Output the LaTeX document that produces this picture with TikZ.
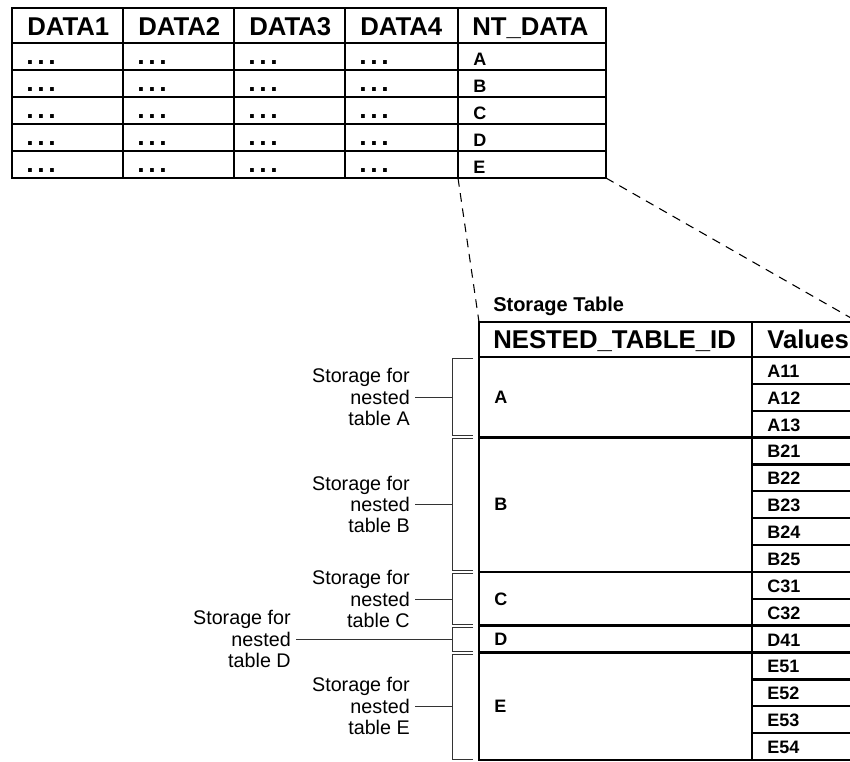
\documentclass[tikz,border=0pt]{standalone}
\usepackage{fontspec}
\setmainfont{Liberation Sans}
\usetikzlibrary{calc}

\tikzset{
  tblframe/.style={line width=2pt},
  tblline/.style={line width=1.6pt},
  colline/.style={line width=1pt},
  hdr/.style={font=\fontsize{19.3}{21}\selectfont\bfseries, inner sep=0pt, anchor=base west},
  ttl/.style={font=\fontsize{15}{17}\selectfont\bfseries, inner sep=0pt, anchor=base west},
  cell/.style={font=\fontsize{13.5}{15}\selectfont\bfseries, inner sep=0pt, anchor=base west},
  dotcell/.style={font=\fontsize{20}{22}\selectfont\bfseries, inner sep=0pt, anchor=base west},
  val/.style={font=\fontsize{13.5}{15}\selectfont\bfseries, inner sep=0pt, anchor=base west},
  idtxt/.style={font=\fontsize{13.5}{15}\selectfont\bfseries, inner sep=0pt, anchor=west},
  brace/.style={line width=0.7pt, draw=black!80},
  note/.style={font=\fontsize{14.8}{15.8}\selectfont, align=right, inner ysep=0pt, inner xsep=3.75pt, anchor=east},
  zoomline/.style={line width=0.8pt, dash pattern=on 6.5pt off 5pt},
}
\newcommand{\tdots}{.\hspace{2.7pt}.\hspace{2.7pt}.}

\begin{document}
\begin{tikzpicture}[x=0.75pt, y=-0.75pt]
  \useasboundingbox (0,0) rectangle (850,761);

  % outer table
  \draw[tblframe] (12,8) rectangle (606,178);
  \foreach \y in {43,70,97,124,151} \draw[tblline] (12,\y) -- (606,\y);
  \foreach \x in {123,234,345,458} \draw[colline] (\x,8) -- (\x,178);
  \node[hdr] (h1) at (27,35) {DATA1};
  \node[hdr] (h2) at (138,35) {DATA2};
  \node[hdr] (h3) at (249,35) {DATA3};
  \node[hdr] (h4) at (360,35) {DATA4};
  \node[hdr] (h5) at (472,35) {NT\_DATA};
  \foreach \r/\l in {0/A,1/B,2/C,3/D,4/E} {
    \foreach \c/\x in {1/26,2/137,3/248,4/359}
      \node[dotcell] (d\c\l) at (\x,64+27*\r) {\tdots};
    \node[cell] (nt\l) at (473,65.5+27*\r) {\l};
  }
  \coordinate (ntSW) at (458,178);
  \coordinate (ntSE) at (606,178);

  % storage table
  \node[ttl] (sttitle) at (493,311) {Storage Table};
  \coordinate (stNW) at (479,322);
  \coordinate (stNE) at (858,322);
  \draw[tblframe] (stNW) rectangle (858,760);
  \draw[tblframe] (479,357) -- (858,357);
  \draw[tblline] (752,322) -- (752,760);
  \foreach \k in {1,...,14} \draw[tblline] (752,357+26.87*\k) -- (858,357+26.87*\k);
  \foreach \k in {3,8,10,11} \draw[tblframe] (479,357+26.87*\k) -- (858,357+26.87*\k);
  \node[hdr] (idhdr) at (493,348.5) {NESTED\_TABLE\_ID};
  \node[hdr] (valhdr) at (767,348.5) {Values};
  \foreach \v [count=\k] in {A11,A12,A13,B21,B22,B23,B24,B25,C31,C32,D41,E51,E52,E53,E54}
    \node[val] (v\v) at (767,350.5+26.87*\k) {\v};
  \node[idtxt] (idA) at (494,397) {A};
  \node[idtxt] (idB) at (494,504.5) {B};
  \node[idtxt] (idC) at (494,599) {C};
  \node[idtxt] (idD) at (494,639) {D};
  \node[idtxt] (idE) at (494,706) {E};

  \draw[zoomline] (ntSW) -- (stNW);
  \draw[zoomline] (ntSE) -- (stNE);

  % brackets
  \draw[brace] (473,358.5) -- (452,358.5) -- (452,435.5) -- (473,435.5);
  \draw[brace] (473,438.5) -- (452,438.5) -- (452,570.5) -- (473,570.5);
  \draw[brace] (473,573.5) -- (452,573.5) -- (452,624) -- (473,624);
  \draw[brace] (473,627) -- (452,627) -- (452,651) -- (473,651);
  \draw[brace] (473,654) -- (452,654) -- (452,759.5) -- (473,759.5);
  \coordinate (brA) at (452,397);
  \coordinate (brB) at (452,504.5);
  \coordinate (brC) at (452,599);
  \coordinate (brD) at (452,639);
  \coordinate (brE) at (452,706);
  \node[note] (noteA) at (415,397) {Storage for\\nested\\table A};
  \node[note] (noteB) at (415,504.5) {Storage for\\nested\\table B};
  \node[note] (noteC) at (415,599) {Storage for\\nested\\table C};
  \node[note] (noteD) at (296,639) {Storage for\\nested\\table D};
  \node[note] (noteE) at (415,706) {Storage for\\nested\\table E};
  \draw[brace] (noteA.east) -- (brA);
  \draw[brace] (noteB.east) -- (brB);
  \draw[brace] (noteC.east) -- (brC);
  \draw[brace] (noteD.east) -- (brD);
  \draw[brace] (noteE.east) -- (brE);
\end{tikzpicture}
\end{document}
